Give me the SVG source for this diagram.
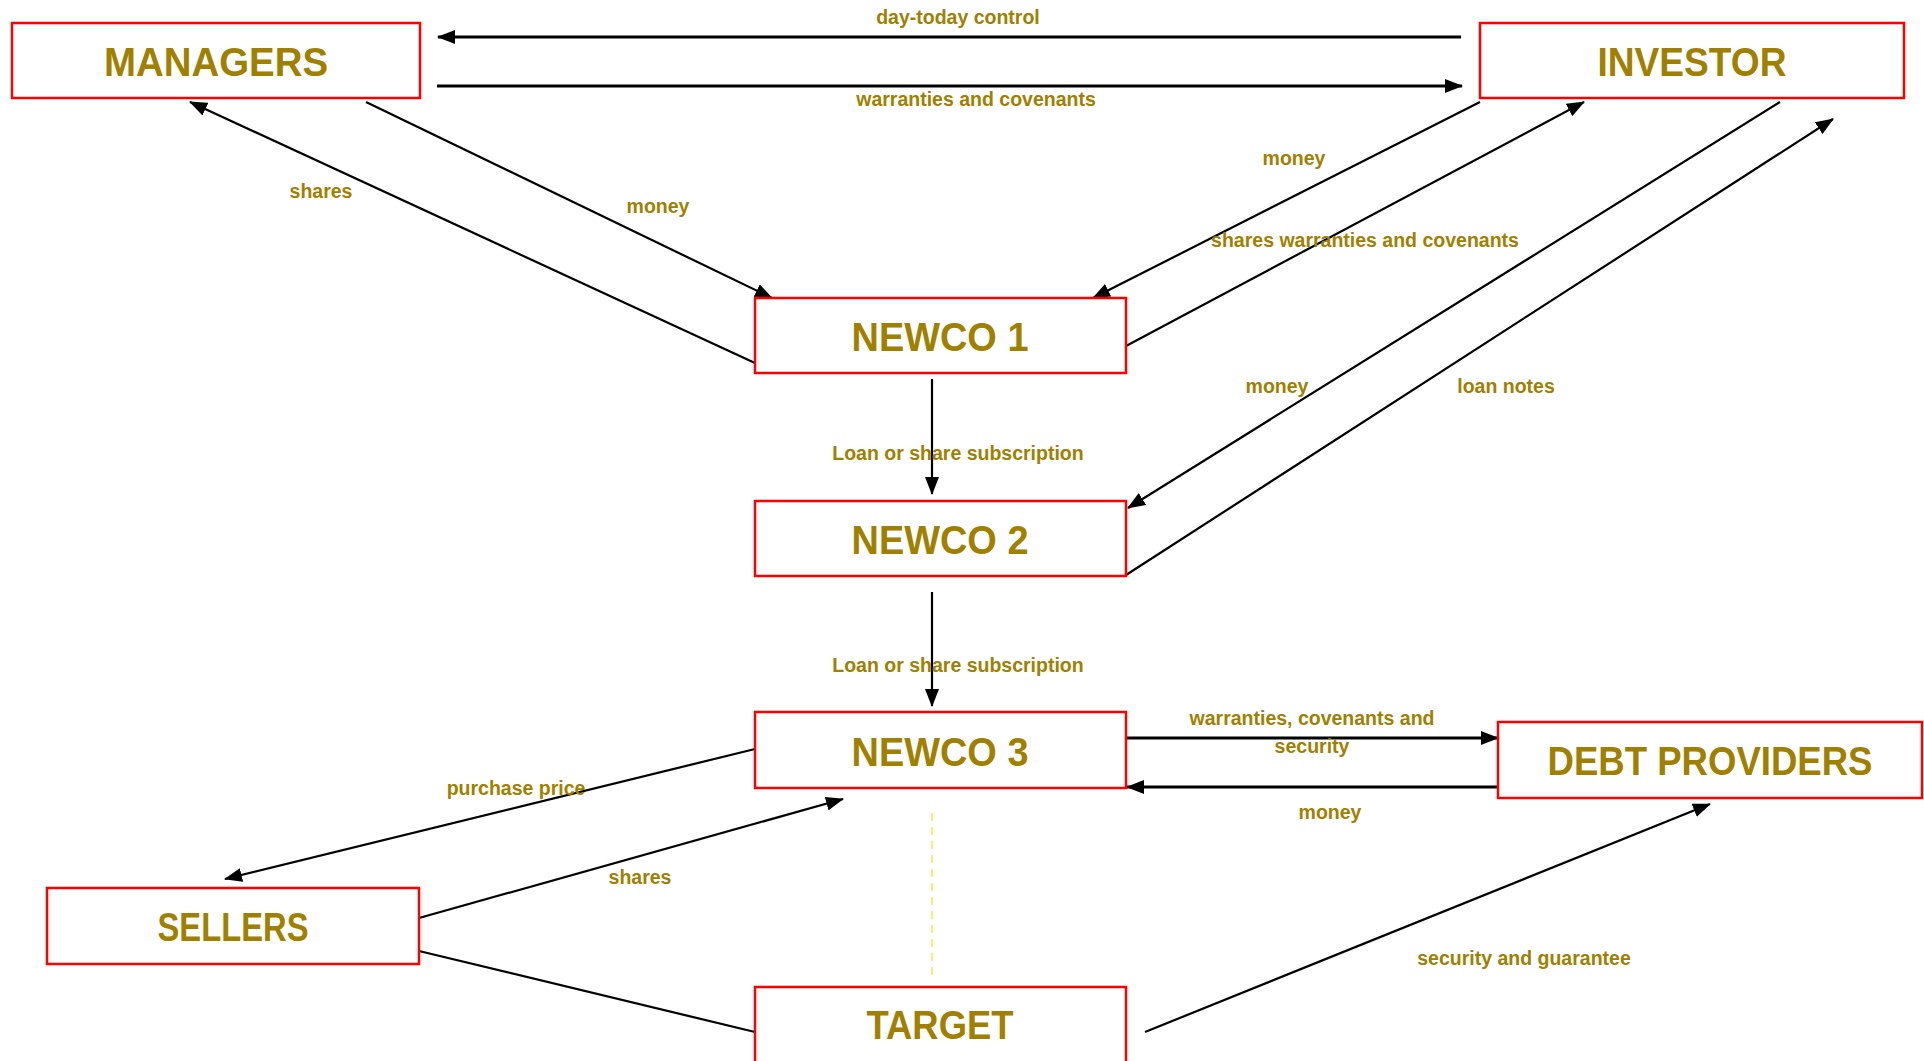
<svg xmlns="http://www.w3.org/2000/svg" width="1924" height="1061" viewBox="0 0 1924 1061">
<style>
.box{fill:#fff;stroke:#ff0000;stroke-width:2.5}
.nt{font-family:"Liberation Sans",Arial,sans-serif;font-weight:bold;font-size:40px;fill:#a08000;text-anchor:middle}
.lb{font-family:"Liberation Sans",Arial,sans-serif;font-weight:bold;font-size:19.5px;fill:#a08000;text-anchor:middle}
.ln{stroke:#000;stroke-width:2.2;fill:none}
.hl{stroke:#000;stroke-width:3;fill:none}
.ar{marker-end:url(#ah)}
.dash{stroke:#ffe34d;stroke-width:1.5;stroke-dasharray:8 6;fill:none}
</style>
<defs>
<marker id="ah" markerUnits="userSpaceOnUse" markerWidth="18" markerHeight="14" viewBox="0 0 18 14" refX="17" refY="7" orient="auto">
<path d="M0,0 L18,7 L0,14 z" fill="#000"/>
</marker>
</defs>
<rect width="1924" height="1061" fill="#fff"/>
<g id="connectors">
<line class="hl ar" x1="1461" y1="37" x2="438" y2="37"/>
<line class="hl ar" x1="437" y1="86" x2="1462" y2="86"/>
<line class="ln ar" x1="755" y1="363" x2="190" y2="102"/>
<line class="ln ar" x1="366" y1="102" x2="772" y2="298"/>
<line class="ln ar" x1="1480" y1="102" x2="1093" y2="298"/>
<line class="ln ar" x1="1126" y1="346" x2="1584" y2="102"/>
<line class="ln ar" x1="1780" y1="102" x2="1128" y2="508"/>
<line class="ln ar" x1="1126" y1="575" x2="1833" y2="119"/>
<line class="ln ar" x1="932" y1="379" x2="932" y2="494"/>
<line class="ln ar" x1="932" y1="592" x2="932" y2="706"/>
<line class="hl ar" x1="1126" y1="738" x2="1498" y2="738"/>
<line class="hl ar" x1="1498" y1="787" x2="1127" y2="787"/>
<line class="ln ar" x1="1145" y1="1032" x2="1710" y2="804"/>
<line class="ln ar" x1="755" y1="749" x2="225" y2="879"/>
<line class="ln ar" x1="419" y1="918" x2="843" y2="799"/>
<line class="ln" x1="419" y1="951" x2="755" y2="1032"/>
<line class="dash" x1="932" y1="813" x2="932" y2="977"/>
</g>
<g id="labels">
<text class="lb" x="958" y="24">day-today control</text>
<text class="lb" x="976" y="106">warranties and covenants</text>
<text class="lb" x="321" y="198">shares</text>
<text class="lb" x="658" y="213">money</text>
<text class="lb" x="1294" y="165">money</text>
<text class="lb" x="1365" y="247">shares warranties and covenants</text>
<text class="lb" x="1277" y="393">money</text>
<text class="lb" x="1506" y="393">loan notes</text>
<text class="lb" x="958" y="460">Loan or share subscription</text>
<text class="lb" x="958" y="672">Loan or share subscription</text>
<text class="lb" x="1312" y="725">warranties, covenants and</text>
<text class="lb" x="1312" y="753">security</text>
<text class="lb" x="1330" y="819">money</text>
<text class="lb" x="516" y="795">purchase price</text>
<text class="lb" x="640" y="884">shares</text>
<text class="lb" x="1524" y="965">security and guarantee</text>
</g>
<g id="managers"><rect class="box" x="12" y="23" width="408" height="75"/><text class="nt" x="216" y="76" textLength="224" lengthAdjust="spacingAndGlyphs">MANAGERS</text></g>
<g id="investor"><rect class="box" x="1480" y="23" width="424" height="75"/><text class="nt" x="1692" y="76" textLength="189" lengthAdjust="spacingAndGlyphs">INVESTOR</text></g>
<g id="newco1"><rect class="box" x="755" y="298" width="371" height="75"/><text class="nt" x="940" y="351" textLength="177" lengthAdjust="spacingAndGlyphs">NEWCO 1</text></g>
<g id="newco2"><rect class="box" x="755" y="501" width="371" height="75"/><text class="nt" x="940" y="554" textLength="177" lengthAdjust="spacingAndGlyphs">NEWCO 2</text></g>
<g id="newco3"><rect class="box" x="755" y="712" width="371" height="76"/><text class="nt" x="940" y="766" textLength="177" lengthAdjust="spacingAndGlyphs">NEWCO 3</text></g>
<g id="debt-providers"><rect class="box" x="1498" y="722" width="424" height="76"/><text class="nt" x="1710" y="775" textLength="325" lengthAdjust="spacingAndGlyphs">DEBT PROVIDERS</text></g>
<g id="sellers"><rect class="box" x="47" y="888" width="372" height="76"/><text class="nt" x="233" y="941" textLength="151" lengthAdjust="spacingAndGlyphs">SELLERS</text></g>
<g id="target"><rect class="box" x="755" y="987" width="371" height="80"/><text class="nt" x="940" y="1039" textLength="147" lengthAdjust="spacingAndGlyphs">TARGET</text></g>
</svg>
